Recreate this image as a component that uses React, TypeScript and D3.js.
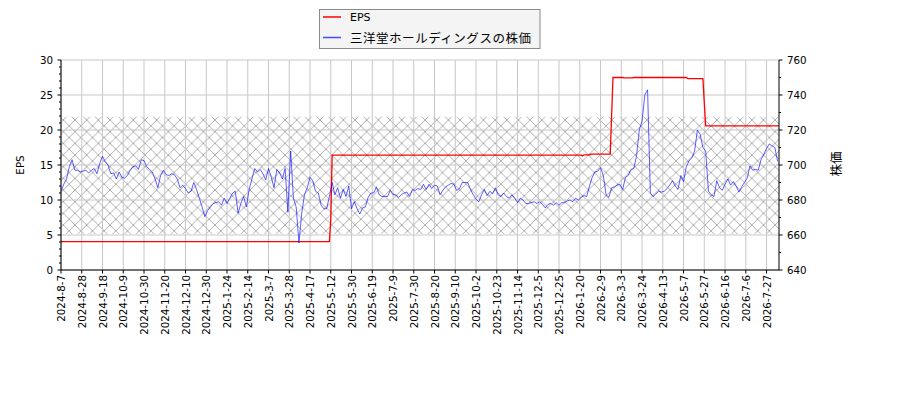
import * as d3 from 'd3';
import React from 'react';

// plot box in page pixels
const PLOT = { left: 61, right: 779, top: 60, bottom: 270 };

const TICK_LABELS = [
  '2024-8-7', '2024-8-28', '2024-9-18', '2024-10-9', '2024-10-30', '2024-11-20',
  '2024-12-10', '2024-12-30', '2025-1-24', '2025-2-14', '2025-3-7', '2025-3-28',
  '2025-4-17', '2025-5-12', '2025-5-30', '2025-6-19', '2025-7-9', '2025-7-30',
  '2025-8-20', '2025-9-10', '2025-10-2', '2025-10-23', '2025-11-14', '2025-12-5',
  '2025-12-25', '2026-1-20', '2026-2-9', '2026-3-3', '2026-3-24', '2026-4-13',
  '2026-5-7', '2026-5-27', '2026-6-16', '2026-7-6', '2026-7-27',
];
const TICK_STEP = 15; // trading days between labels
const DAY_COUNT = 520;

// EPS, as (trading day, value) steps
const EPS_DAY = [0, 194, 195, 196, 376, 377, 378, 382, 383, 397, 398, 399, 406, 407, 413, 414, 452, 453, 464, 465, 466, 519];
const EPS_VALUE = [4.05, 4.05, 7.2, 16.4, 16.4, 16.3, 16.45, 16.45, 16.55, 16.55, 22.0, 27.5, 27.5, 27.45, 27.45, 27.5, 27.5, 27.35, 27.35, 23.9, 20.6, 20.6];

// share price, one value every 2 trading days
const PRICE_STEP = 2;
const PRICE = [
  685, 689, 692, 699, 703, 697, 697, 696, 696.5, 697,
  695.5, 697, 698, 695, 701, 705, 702, 700, 695, 695.5,
  692, 696, 693, 692.5, 694, 697, 699, 699.5, 697.5, 703,
  702.5, 699, 697.5, 696, 692, 687, 694, 697, 694.5, 694,
  695, 694.5, 692, 687, 688.5, 686.5, 684, 685, 690, 686,
  681, 676, 670.5, 674, 676, 678, 678.5, 679, 677, 681,
  678, 681, 684, 685, 672.5, 678, 682, 676, 686, 692,
  698, 696, 697.5, 695, 691.5, 698, 693, 687, 697.5, 695.5,
  692, 698, 673, 708, 681, 676, 655.5, 672.5, 683,
  687, 693, 691, 685, 684, 677, 675, 675, 682, 690,
  683, 687, 681, 686, 682, 688, 675, 679, 675, 672,
  675.5, 676, 681.5, 684, 684, 687.5, 683, 682, 682, 682,
  685.5, 683, 683, 681.5, 683, 684, 684.5, 682, 686, 685.5,
  686.5, 686, 689, 686, 689, 686.5, 688.5, 688, 683, 685.5,
  687.5, 688.5, 689.5, 689, 685.5, 686.5, 690, 690, 690, 686,
  683, 680.5, 679, 683, 686, 682.5, 685, 683.5, 687, 683,
  682, 684, 682, 681, 683, 681, 678.5, 681, 680, 678,
  678, 678.5, 679, 678, 679, 677.5, 675.5, 677.5, 678, 677,
  678.5, 677, 678.5, 678.5, 679.5, 680, 679, 681, 680, 681.5,
  682.5, 682, 688, 693, 696, 696.5, 698.5, 694, 683, 681.5,
  687, 687.5, 688.5, 689, 686, 693, 694, 697.5, 698, 705,
  720, 725, 740, 743, 684, 682, 683.5, 685, 684.5, 685,
  686.5, 688.5, 691, 688, 686, 694, 690.5, 699, 702.5, 704,
  708, 720, 717.5, 710, 708, 685, 683, 682, 691, 687,
  685.5, 689, 692, 688.5, 690.5, 688, 684.5, 687.5, 690, 692.5,
  699.5, 697, 697.5, 697, 703, 706, 709.5, 712, 711, 710,
  702,
];

const HATCH_EPS = [5.15, 21.9];

const EPS_COLOR = '#ff0000';
const PRICE_COLOR = 'rgba(0,0,255,0.7)';
const LEGEND = [
  { label: 'EPS', color: EPS_COLOR },
  { label: '三洋堂ホールディングスの株価', color: PRICE_COLOR },
];

const LATIN = 'DejaVu Sans, sans-serif';
const CJK = '"Noto Sans CJK JP", sans-serif';

export default function App() {
  const x = d3.scaleLinear().domain([0, DAY_COUNT - 1]).range([PLOT.left, PLOT.right]);
  const yEps = d3.scaleLinear().domain([0, 30]).range([PLOT.bottom, PLOT.top]);
  const yPrice = d3.scaleLinear().domain([640, 760]).range([PLOT.bottom, PLOT.top]);

  const epsPath = d3
    .line<number>()
    .x((_, i) => x(EPS_DAY[i]))
    .y((d) => yEps(d))(EPS_VALUE);
  const pricePath = d3
    .line<number>()
    .x((_, i) => x(i * PRICE_STEP))
    .y((d) => yPrice(d))(PRICE);

  const epsMajor = d3.range(0, 31, 5);
  const epsMinor = d3.range(0, 31, 1).filter((v) => v % 5 !== 0);
  const priceMajor = d3.range(640, 761, 20);
  const priceMinor = d3.range(650, 760, 20);
  const xTicks = TICK_LABELS.map((label, i) => ({ label, pos: x(i * TICK_STEP) }));

  const hatchSize = 11.67;
  const grid = '#c8c8c8';

  return (
    <svg
      width={900}
      height={400}
      style={{ position: 'absolute', left: 0, top: 0, background: '#fff' }}
    >
      <defs>
        <pattern
          id="xhatch"
          patternUnits="userSpaceOnUse"
          x={4.95}
          y={3.3}
          width={hatchSize}
          height={hatchSize}
        >
          <path
            d={`M0,0L${hatchSize},${hatchSize}M0,${hatchSize}L${hatchSize},0`}
            stroke="#a6a6a6"
            strokeWidth={0.9}
          />
        </pattern>
        <clipPath id="plotClip">
          <rect x={PLOT.left} y={PLOT.top} width={PLOT.right - PLOT.left} height={PLOT.bottom - PLOT.top} />
        </clipPath>
      </defs>

      {/* hatched band */}
      <rect
        x={PLOT.left}
        y={yEps(HATCH_EPS[1])}
        width={PLOT.right - PLOT.left}
        height={yEps(HATCH_EPS[0]) - yEps(HATCH_EPS[1])}
        fill="url(#xhatch)"
      />

      {/* grid */}
      {xTicks.map((t) => (
        <line key={'gx' + t.label} x1={t.pos} x2={t.pos} y1={PLOT.top} y2={PLOT.bottom} stroke={grid} strokeWidth={1} />
      ))}
      {epsMajor.map((v) => (
        <line key={'gy' + v} x1={PLOT.left} x2={PLOT.right} y1={yEps(v)} y2={yEps(v)} stroke={grid} strokeWidth={1} />
      ))}

      <g clipPath="url(#plotClip)">
        <path d={epsPath ?? ''} fill="none" stroke={EPS_COLOR} strokeWidth={1.3} />
        <path d={pricePath ?? ''} fill="none" stroke={PRICE_COLOR} strokeWidth={0.9} />
      </g>

      {/* spines */}
      <line x1={PLOT.left} x2={PLOT.left} y1={PLOT.top} y2={PLOT.bottom} stroke="#000" strokeWidth={1} />
      <line x1={PLOT.right} x2={PLOT.right} y1={PLOT.top} y2={PLOT.bottom} stroke="#000" strokeWidth={1} />
      <line x1={PLOT.left} x2={PLOT.right} y1={PLOT.bottom} y2={PLOT.bottom} stroke="#000" strokeWidth={1} />

      {/* left axis */}
      {epsMajor.map((v) => (
        <g key={'le' + v}>
          <line x1={PLOT.left - 3.5} x2={PLOT.left} y1={yEps(v)} y2={yEps(v)} stroke="#000" />
          <text x={PLOT.left - 8} y={yEps(v)} textAnchor="end" dominantBaseline="central" fontFamily={LATIN} fontSize={10.3}>
            {v}
          </text>
        </g>
      ))}
      {epsMinor.map((v) => (
        <line key={'lm' + v} x1={PLOT.left - 2} x2={PLOT.left} y1={yEps(v)} y2={yEps(v)} stroke="#000" />
      ))}

      {/* right axis */}
      {priceMajor.map((v) => (
        <g key={'rp' + v}>
          <line x1={PLOT.right} x2={PLOT.right + 3.5} y1={yPrice(v)} y2={yPrice(v)} stroke="#000" />
          <text x={PLOT.right + 8} y={yPrice(v)} dominantBaseline="central" fontFamily={LATIN} fontSize={10.3}>
            {v}
          </text>
        </g>
      ))}
      {priceMinor.map((v) => (
        <line key={'rm' + v} x1={PLOT.right} x2={PLOT.right + 2} y1={yPrice(v)} y2={yPrice(v)} stroke="#000" />
      ))}

      {/* x axis */}
      {xTicks.map((t) => (
        <g key={'xt' + t.label}>
          <line x1={t.pos} x2={t.pos} y1={PLOT.bottom} y2={PLOT.bottom + 3.5} stroke="#000" />
          <text
            transform={`translate(${t.pos},${PLOT.bottom + 5}) rotate(-90)`}
            textAnchor="end"
            dominantBaseline="central"
            fontFamily={LATIN}
            fontSize={10.3}
          >
            {t.label}
          </text>
        </g>
      ))}

      {/* axis titles */}
      <text transform="translate(20,165) rotate(-90)" textAnchor="middle" dominantBaseline="central" fontFamily={LATIN} fontSize={10.3}>
        EPS
      </text>
      <text transform="translate(835,164) rotate(-90)" textAnchor="middle" dominantBaseline="central" fontFamily={CJK} fontSize={12.5}>
        株価
      </text>

      {/* legend */}
      <rect x={319.5} y={9.5} width={220.5} height={39} fill="#f4f4f4" stroke="#8a8a8a" strokeWidth={1} />
      {LEGEND.map((item, i) => {
        const cy = 17 + i * 20.5;
        return (
          <g key={item.label}>
            <line x1={323} x2={341} y1={cy} y2={cy} stroke={item.color} strokeWidth={1.5} />
            <text
              x={350}
              y={cy}
              dominantBaseline="central"
              fontFamily={i === 0 ? LATIN : CJK}
              fontSize={i === 0 ? 11 : 12.5}
              {...(i === 1 ? { textLength: 181, lengthAdjust: 'spacing' } : {})}
            >
              {item.label}
            </text>
          </g>
        );
      })}
    </svg>
  );
}
